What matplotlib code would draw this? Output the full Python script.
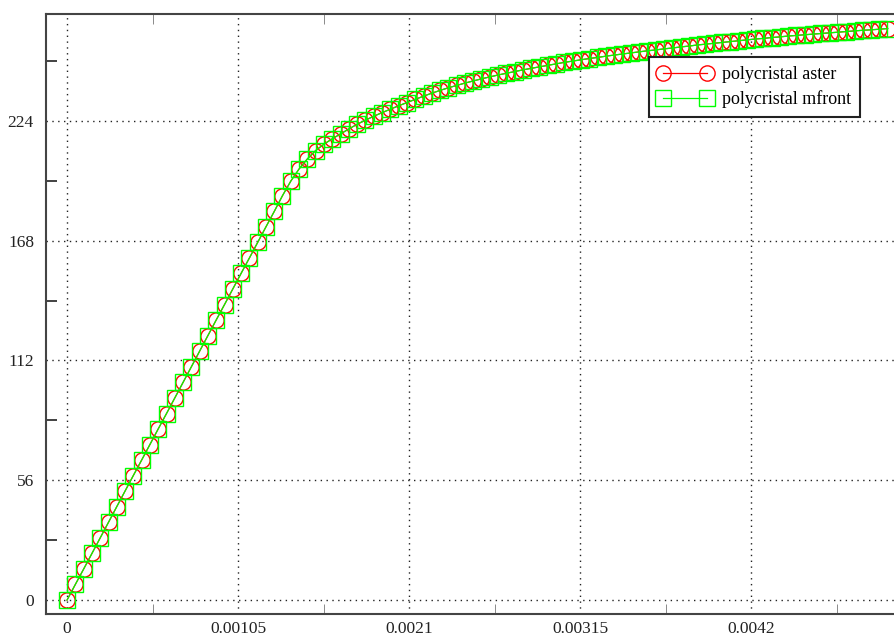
import matplotlib
matplotlib.use("Agg")
import matplotlib.pyplot as plt
from matplotlib.ticker import FixedLocator

# strain values (in 1e-3) and stress values
strain_milli = [
    0.000, 0.051, 0.102, 0.153, 0.204, 0.255, 0.305, 0.356, 0.407, 0.458,
    0.509, 0.560, 0.611, 0.662, 0.713, 0.764, 0.814, 0.865, 0.916, 0.967,
    1.018, 1.069, 1.120, 1.171, 1.222, 1.273, 1.323, 1.374, 1.425, 1.476,
    1.527, 1.578, 1.629, 1.680, 1.731, 1.782, 1.832, 1.883, 1.934, 1.985,
    2.036, 2.087, 2.138, 2.189, 2.240, 2.291, 2.341, 2.392, 2.443, 2.494,
    2.545, 2.596, 2.647, 2.698, 2.749, 2.800, 2.850, 2.901, 2.952, 3.003,
    3.054, 3.105, 3.156, 3.207, 3.258, 3.309, 3.359, 3.410, 3.461, 3.512,
    3.563, 3.614, 3.665, 3.716, 3.767, 3.818, 3.868, 3.919, 3.970, 4.021,
    4.072, 4.123, 4.174, 4.225, 4.276, 4.327, 4.377, 4.428, 4.479, 4.530,
    4.581, 4.632, 4.683, 4.734, 4.785, 4.836, 4.886, 4.937, 4.988, 5.039,
]
stress_aster = [
    0.0, 7.3, 14.5, 21.8, 29.1, 36.4, 43.6, 50.9, 58.2, 65.4,
    72.7, 80.0, 87.2, 94.5, 101.8, 109.1, 116.3, 123.6, 130.9, 138.1,
    145.4, 152.7, 159.9, 167.2, 174.5, 181.7, 189.0, 195.8, 201.5, 206.2,
    210.1, 213.1, 215.6, 217.9, 220.2, 222.4, 224.3, 226.1, 227.8, 229.4,
    231.0, 232.5, 234.0, 235.5, 236.9, 238.2, 239.4, 240.5, 241.6, 242.6,
    243.6, 244.5, 245.4, 246.2, 247.0, 247.8, 248.5, 249.2, 249.9, 250.6,
    251.3, 251.9, 252.5, 253.1, 253.6, 254.2, 254.7, 255.2, 255.7, 256.2,
    256.7, 257.1, 257.6, 258.0, 258.5, 258.9, 259.4, 259.8, 260.2, 260.6,
    261.0, 261.4, 261.8, 262.2, 262.5, 262.9, 263.2, 263.6, 263.9, 264.2,
    264.5, 264.8, 265.1, 265.4, 265.7, 266.0, 266.3, 266.5, 266.8, 267.1,
]
stress_mfront = list(stress_aster)

x_ticks = [0.0, 0.00105, 0.0021, 0.00315, 0.0042]
x_tick_labels = ["0", "0.00105", "0.0021", "0.00315", "0.0042"]
x_minor = [0.000525, 0.001575, 0.002625, 0.003675, 0.004725]
y_ticks = [0, 56, 112, 168, 224]
y_tick_labels = ["0", "56", "112", "168", "224"]
y_minor = [28, 84, 140, 196, 252]
labels = ["polycristal aster", "polycristal mfront"]

strain = [v * 1e-3 for v in strain_milli]

plt.rcParams['font.family'] = ['Liberation Serif', 'DejaVu Serif']

W, H = 895, 638
fig = plt.figure(figsize=(W / 100, H / 100), dpi=100)
left_px, right_px, top_px, bot_px = 46.5, 902, 14, 614
ax = fig.add_axes([left_px / W, (H - bot_px) / H,
                   (right_px - left_px) / W, (bot_px - top_px) / H])

ax.plot(strain, stress_aster, color='#ff0000', lw=0.9, marker='o', ms=11,
        mfc='none', mec='#ff0000', mew=1.0, label=labels[0], zorder=3)
ax.plot(strain, stress_mfront, color='#00ff00', lw=0.9, marker='s', ms=11,
        mfc='none', mec='#00ff00', mew=1.0, label=labels[1], zorder=4)

# limits matching the reference pixel mapping
ax.set_xlim(-0.000126, 0.005127)
ax.set_ylim(-6.5, 273.9)

ax.xaxis.set_major_locator(FixedLocator(x_ticks))
ax.set_xticklabels(x_tick_labels)
ax.xaxis.set_minor_locator(FixedLocator(x_minor))
ax.yaxis.set_major_locator(FixedLocator(y_ticks))
ax.set_yticklabels(y_tick_labels)
ax.yaxis.set_minor_locator(FixedLocator(y_minor))

ax.tick_params(which='major', length=0, labelsize=12.5, colors='#222222')
ax.tick_params(axis='y', which='major', pad=9)
ax.tick_params(axis='x', which='major', pad=5)
ax.tick_params(axis='y', which='minor', direction='in', length=8, width=1.3,
               colors='#333333', left=True, right=False)
ax.tick_params(axis='x', which='minor', direction='in', length=7, width=0.6,
               colors='#777777', top=True, bottom=True)

ax.grid(True, which='major', color='#222222', linestyle=(0, (1, 3.2)), lw=1.0)

for s in ax.spines.values():
    s.set_color('#444444')
    s.set_linewidth(1.5)

leg = ax.legend(loc='upper right', bbox_to_anchor=(0.951, 0.928),
                borderaxespad=0, numpoints=2, handlelength=3.0,
                handletextpad=0.55, fontsize=13, fancybox=False,
                framealpha=1, edgecolor='#222222', borderpad=0.5,
                labelspacing=0.4)
leg.get_frame().set_linewidth(1.5)

fig.savefig("out.png", dpi=100)
